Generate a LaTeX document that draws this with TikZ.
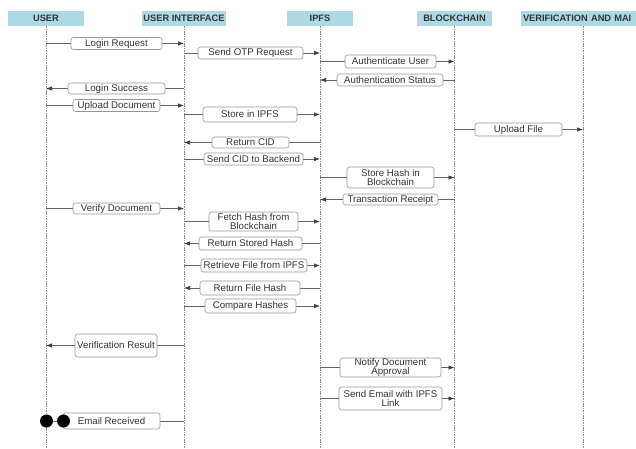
\documentclass[tikz,border=0pt]{standalone}
\usepackage{fontspec}
\setmainfont{Liberation Sans}
\usetikzlibrary{arrows.meta,backgrounds}
\definecolor{hdr}{RGB}{173,216,230}
\definecolor{txt}{RGB}{51,51,51}
\definecolor{linec}{RGB}{100,100,100}
\definecolor{tipc}{RGB}{60,60,60}
\definecolor{boxc}{RGB}{150,150,150}
\definecolor{lifec}{RGB}{140,140,140}
\begin{document}
\begin{tikzpicture}[x=1pt,y=-1pt,
  hdrbox/.style={fill=hdr, inner sep=0pt, minimum height=15pt, text=txt,
    font=\fontsize{9.3}{10}\selectfont\bfseries},
  lbl/.style={draw=boxc, fill=white, rounded corners=2.5pt, inner sep=0pt,
    text=txt, align=center, line width=0.6pt,
    font=\fontsize{9.7}{9.3}\selectfont},
  msg/.style={draw=linec, line width=0.7pt, -{Latex[length=6pt,width=4.5pt,color=tipc]}},
  msgend/.style={draw=linec, line width=0.7pt},
  life/.style={draw=lifec, line width=1pt, dash pattern=on 1.5pt off 0.9pt},
  dot/.style={circle, fill=black, inner sep=0pt, minimum size=13pt}]
\useasboundingbox (0,0) rectangle (636,448);
\clip (0,0) rectangle (636,448);
\coordinate (bot) at (0,448);

% headers
\node[hdrbox, minimum width=76pt] (u) at (46,18.5) {USER};
\node[hdrbox, minimum width=84pt] (ui) at (184,18.5) {USER INTERFACE};
\node[hdrbox, minimum width=66pt] (ipfs) at (320,18.5) {IPFS};
\node[hdrbox, minimum width=75pt] (bc) at (454.5,18.5) {BLOCKCHAIN};
\node[hdrbox, minimum width=124pt, text width=120pt, align=left] (vm) at (583,18.5) {VERIFICATION AND MAI};

% message labels
\node[lbl, minimum width=91pt, minimum height=12pt] (m1) at (116.5,43.5) {Login Request};
\node[lbl, minimum width=105pt, minimum height=12pt] (m2) at (250.5,53) {Send OTP Request};
\node[lbl, minimum width=91pt, minimum height=13pt] (m3) at (390.5,61.5) {Authenticate User};
\node[lbl, minimum width=106pt, minimum height=12pt] (m4) at (390,80) {Authentication Status};
\node[lbl, minimum width=97pt, minimum height=11pt] (m5) at (116.5,88.5) {Login Success};
\node[lbl, minimum width=87pt, minimum height=12pt] (m6) at (116.5,105.5) {Upload Document};
\node[lbl, minimum width=94pt, minimum height=15pt] (m7) at (250,114.5) {Store in IPFS};
\node[lbl, minimum width=87pt, minimum height=13pt] (m8) at (518.5,129.5) {Upload File};
\node[lbl, minimum width=77pt, minimum height=11pt] (m9) at (250.5,142.5) {Return CID};
\node[lbl, minimum width=99pt, minimum height=12pt] (m10) at (253.5,159) {Send CID to Backend};
\node[lbl, minimum width=87pt, minimum height=21pt] (m11) at (390.5,177.5) {Store Hash in\\Blockchain};
\node[lbl, minimum width=95pt, minimum height=11pt] (m12) at (390.5,199.5) {Transaction Receipt};
\node[lbl, minimum width=87pt, minimum height=11pt] (m13) at (116.5,208.5) {Verify Document};
\node[lbl, minimum width=89pt, minimum height=19pt] (m14) at (253.5,221.5) {Fetch Hash from\\Blockchain};
\node[lbl, minimum width=103pt, minimum height=13pt] (m15) at (250.5,243.5) {Return Stored Hash};
\node[lbl, minimum width=106pt, minimum height=13pt] (m16) at (254,265.5) {Retrieve File from IPFS};
\node[lbl, minimum width=100pt, minimum height=14pt] (m17) at (250,288) {Return File Hash};
\node[lbl, minimum width=91pt, minimum height=14pt] (m18) at (250.5,306) {Compare Hashes};
\node[lbl, minimum width=82pt, minimum height=23pt] (m19) at (116,345.5) {Verification Result};
\node[lbl, minimum width=101pt, minimum height=19pt] (m20) at (390.5,367.5) {Notify Document\\Approval};
\node[lbl, minimum width=103pt, minimum height=23pt] (m21) at (390.5,398.5) {Send Email with IPFS\\Link};
\node[lbl, minimum width=97pt, minimum height=16pt] (m22) at (111.5,421) {Email Received};

% end dots of Email Received
\node[dot] (d1) at (46.5,421) {};
\node[dot] (d2) at (63.5,421) {};

\begin{scope}[on background layer]
  % lifelines
  \draw[life] (u.south) -- (u |- bot);
  \draw[life] (ui.south) -- (ui |- bot);
  \draw[life] (ipfs.south) -- (ipfs |- bot);
  \draw[life] (bc.south) -- (bc |- bot);
  \draw[life] (vm.south) -- (vm |- bot);
  % messages
  \draw[msg] (u |- m1) -- (ui |- m1);
  \draw[msg] (ui |- m2) -- (ipfs |- m2);
  \draw[msg] (ipfs |- m3) -- (bc |- m3);
  \draw[msg] (bc |- m4) -- (ipfs |- m4);
  \draw[msg] (ui |- m5) -- (u |- m5);
  \draw[msg] (u |- m6) -- (ui |- m6);
  \draw[msg] (ui |- m7) -- (ipfs |- m7);
  \draw[msg] (bc |- m8) -- (vm |- m8);
  \draw[msg] (ipfs |- m9) -- (ui |- m9);
  \draw[msg] (ui |- m10) -- (ipfs |- m10);
  \draw[msg] (ipfs |- m11) -- (bc |- m11);
  \draw[msg] (bc |- m12) -- (ipfs |- m12);
  \draw[msg] (u |- m13) -- (ui |- m13);
  \draw[msg] (ui |- m14) -- (ipfs |- m14);
  \draw[msg] (ipfs |- m15) -- (ui |- m15);
  \draw[msg] (ui |- m16) -- (ipfs |- m16);
  \draw[msg] (ipfs |- m17) -- (ui |- m17);
  \draw[msg] (ui |- m18) -- (ipfs |- m18);
  \draw[msg] (ui |- m19) -- (u |- m19);
  \draw[msg] (ipfs |- m20) -- (bc |- m20);
  \draw[msg] (ipfs |- m21) -- (bc |- m21);
  \draw[msgend] (ui |- m22) -- (d1);
\end{scope}
\end{tikzpicture}
\end{document}
